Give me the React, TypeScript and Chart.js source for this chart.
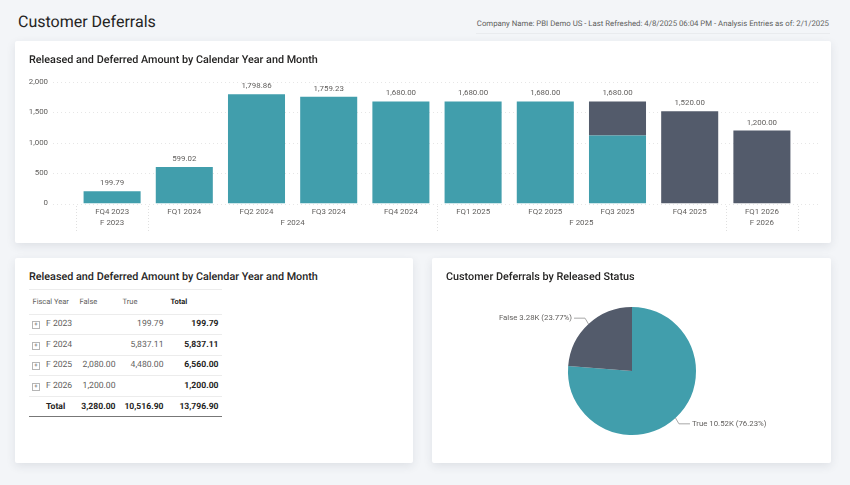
import { useEffect, useRef } from "react";
import { Chart, registerables } from "chart.js";

Chart.register(...registerables);

const FONT = 'Roboto, sans-serif';
const TEAL = "#419eac";
const SLATE = "#535b6b";
const INK = "#252423";
const GREY = "#605e5c";

const quarters = [
  "FQ4 2023", "FQ1 2024", "FQ2 2024", "FQ3 2024", "FQ4 2024",
  "FQ1 2025", "FQ2 2025", "FQ3 2025", "FQ4 2025", "FQ1 2026",
];
const releasedTrue = [199.79, 599.02, 1798.86, 1759.23, 1680, 1680, 1680, 1120, 0, 0];
const releasedFalse = [0, 0, 0, 0, 0, 0, 0, 560, 1520, 1200];
const fiscalYears = ["F 2023", "F 2024", "F 2025", "F 2026"];
const fiscalYearSpans = [1, 4, 4, 1];
const yTicks = [0, 500, 1000, 1500, 2000];

const pieLabels = ["True", "False"];
const pieValues = [10516.9, 3280];
const pieTexts = ["True 10.52K (76.23%)", "False 3.28K (23.77%)"];

const tableHead = ["Fiscal Year", "False", "True", "Total"];
const tableRows = [
  ["F 2023", "", "199.79", "199.79"],
  ["F 2024", "", "5,837.11", "5,837.11"],
  ["F 2025", "2,080.00", "4,480.00", "6,560.00"],
  ["F 2026", "1,200.00", "", "1,200.00"],
];
const tableTotal = ["Total", "3,280.00", "10,516.90", "13,796.90"];

const money = (v: number) =>
  v.toLocaleString("en-US", { minimumFractionDigits: 2, maximumFractionDigits: 2 });

// grid lines run past the categories, value labels and the fiscal year row
const barExtras = {
  id: "barExtras",
  beforeDatasetsDraw(chart: any) {
    const { ctx, scales } = chart;
    ctx.save();
    ctx.strokeStyle = "#e6e6e6";
    ctx.lineWidth = 1;
    ctx.setLineDash([1, 3]);
    yTicks.forEach((t) => {
      const y = Math.round(scales.y.getPixelForValue(t)) + 0.5;
      ctx.beginPath();
      ctx.moveTo(38, y);
      ctx.lineTo(803, y);
      ctx.stroke();
    });
    ctx.restore();
  },
  afterDatasetsDraw(chart: any) {
    const { ctx, scales } = chart;
    const step = scales.x.getPixelForValue(1) - scales.x.getPixelForValue(0);
    ctx.save();
    ctx.font = `7.9px ${FONT}`;
    ctx.fillStyle = GREY;
    ctx.textAlign = "center";
    ctx.textBaseline = "middle";
    quarters.forEach((_, i) => {
      const total = releasedTrue[i] + releasedFalse[i];
      ctx.fillText(money(total), scales.x.getPixelForValue(i), scales.y.getPixelForValue(total) - 8);
    });

    let start = 0;
    const edge = (i: number) => scales.x.getPixelForValue(0) + (i - 0.5) * step;
    ctx.strokeStyle = "#e0e0e0";
    ctx.setLineDash([1, 2]);
    const drawEdge = (i: number) => {
      const x = Math.round(edge(i)) + 0.5;
      ctx.beginPath();
      ctx.moveTo(x, 165);
      ctx.lineTo(x, 191);
      ctx.stroke();
    };
    drawEdge(0);
    fiscalYears.forEach((fy, i) => {
      const end = start + fiscalYearSpans[i];
      ctx.fillText(fy, (edge(start) + edge(end)) / 2, 182.5);
      drawEdge(end);
      start = end;
    });
    ctx.restore();
  },
};

// leader lines and labels off the middle of each slice
const pieExtras = {
  id: "pieExtras",
  afterDatasetsDraw(chart: any) {
    const { ctx } = chart;
    const arcs = chart.getDatasetMeta(0).data;
    ctx.save();
    ctx.font = `7.8px ${FONT}`;
    ctx.fillStyle = GREY;
    ctx.strokeStyle = "#a8a8a8";
    ctx.lineWidth = 1;
    ctx.textBaseline = "middle";
    arcs.forEach((arc: any, i: number) => {
      const mid = (arc.startAngle + arc.endAngle) / 2;
      const x0 = arc.x + Math.cos(mid) * arc.outerRadius;
      const y0 = arc.y + Math.sin(mid) * arc.outerRadius;
      const dir = Math.cos(mid) > 0 ? 1 : -1;
      const x1 = x0 + dir * 3.5;
      const y1 = y0 + Math.sin(mid) * 8;
      const x2 = x1 + dir * 11;
      ctx.beginPath();
      ctx.moveTo(x0, y0);
      ctx.lineTo(x1, y1);
      ctx.lineTo(x2, y1);
      ctx.stroke();
      ctx.textAlign = dir > 0 ? "left" : "right";
      ctx.fillText(pieTexts[i], x2 + dir * 2, y1);
    });
    ctx.restore();
  },
};

function BarPanel() {
  const canvasRef = useRef<HTMLCanvasElement>(null);

  useEffect(() => {
    const canvas = canvasRef.current;
    if (!canvas) return;
    const ctx: any = canvas.getContext("2d");
    if (!ctx) return;
    ctx.textRendering = "geometricPrecision";

    const chart = new Chart(canvas, {
      type: "bar",
      data: {
        labels: quarters,
        datasets: [
          { label: "True", data: releasedTrue, backgroundColor: TEAL, barPercentage: 0.79, categoryPercentage: 1 },
          { label: "False", data: releasedFalse, backgroundColor: SLATE, barPercentage: 0.79, categoryPercentage: 1 },
        ],
      },
      options: {
        responsive: false,
        animation: false,
        layout: { padding: { left: 0, right: 33, top: 41, bottom: 0 } },
        plugins: { legend: { display: false }, tooltip: { enabled: false } },
        scales: {
          x: {
            stacked: true,
            grid: { display: false },
            border: { display: false },
            afterFit(scale: any) {
              scale.height = 39.5;
            },
            ticks: {
              color: GREY,
              padding: -4,
              maxRotation: 0,
              autoSkip: false,
              font: { size: 7.9, family: FONT },
            },
          },
          y: {
            stacked: true,
            min: 0,
            max: 2000,
            grid: { display: false },
            border: { display: false },
            afterFit(scale: any) {
              scale.width = 61;
            },
            ticks: {
              color: GREY,
              stepSize: 500,
              padding: 20,
              font: { size: 7.9, family: FONT },
              callback(val: any) {
                return Number(val).toLocaleString("en-US");
              },
            },
          },
        },
      },
      plugins: [barExtras],
    } as any);

    return () => chart.destroy();
  }, []);

  return <canvas ref={canvasRef} width={816} height={202} style={{ position: "absolute", left: 0, top: 0 }} />;
}

function PiePanel() {
  const canvasRef = useRef<HTMLCanvasElement>(null);

  useEffect(() => {
    const canvas = canvasRef.current;
    if (!canvas) return;
    const ctx: any = canvas.getContext("2d");
    if (!ctx) return;
    ctx.textRendering = "geometricPrecision";

    const chart = new Chart(canvas, {
      type: "pie",
      data: {
        labels: pieLabels,
        datasets: [{ data: pieValues, backgroundColor: [TEAL, SLATE], borderWidth: 0 }],
      },
      options: {
        responsive: false,
        animation: false,
        layout: { padding: { left: 100, right: 99, top: 49, bottom: 28 } },
        plugins: { legend: { display: false }, tooltip: { enabled: false } },
      },
      plugins: [pieExtras],
    } as any);

    return () => chart.destroy();
  }, []);

  return <canvas ref={canvasRef} width={399} height={205} style={{ position: "absolute", left: 0, top: 0 }} />;
}

const card = (left: number, top: number, width: number, height: number): React.CSSProperties => ({
  position: "absolute",
  left,
  top,
  width,
  height,
  background: "#fff",
  borderRadius: 2,
  boxShadow: "0 3px 10px rgba(40,50,70,0.10)",
});

const panelTitle: React.CSSProperties = {
  position: "absolute",
  left: 14,
  top: 10,
  fontSize: 10.8,
  lineHeight: "17px",
  fontWeight: 500,
  color: INK,
  whiteSpace: "nowrap",
};

const cell = (align: "left" | "right", bold: boolean, color = GREY): React.CSSProperties => ({
  padding: align === "right" ? "0 3.5px 0 0" : "0 0 0 3.5px",
  textAlign: align,
  fontWeight: bold ? 700 : 400,
  color,
  lineHeight: "12px",
  whiteSpace: "nowrap",
  overflow: "visible",
});

function DeferralTable() {
  const rowStyle: React.CSSProperties = { height: 20.6, borderBottom: "1.5px solid #ececec" };
  return (
    <table
      style={{
        position: "absolute",
        left: 14,
        top: 31,
        width: 193,
        tableLayout: "fixed",
        borderCollapse: "collapse",
        fontSize: 8.6,
        fontFamily: FONT,
      }}
    >
      <colgroup>
        <col style={{ width: 47 }} />
        <col style={{ width: 43 }} />
        <col style={{ width: 48 }} />
        <col style={{ width: 55 }} />
      </colgroup>
      <thead>
        <tr style={{ height: 24.5, borderTop: "1px solid #ececec", borderBottom: "1.5px solid #ececec" }}>
          {tableHead.map((h, i) => (
            <th key={h} style={{ ...cell("left", i === 3, i === 3 ? INK : GREY), fontSize: 7.5, fontWeight: i === 3 ? 700 : 400 }}>
              {h}
            </th>
          ))}
        </tr>
      </thead>
      <tbody>
        {tableRows.map((row) => (
          <tr key={row[0]} style={rowStyle}>
            <td style={{ ...cell("left", false), paddingLeft: 3 }}>
              <span
                style={{
                  display: "inline-block",
                  position: "relative",
                  top: 1,
                  width: 6,
                  height: 6,
                  marginRight: 6,
                  border: "1px solid #b5b5b5",
                  fontSize: 6,
                  lineHeight: "6px",
                  textAlign: "center",
                  verticalAlign: "middle",
                }}
              >
                +
              </span>
              {row[0]}
            </td>
            <td style={cell("right", false)}>{row[1]}</td>
            <td style={cell("right", false)}>{row[2]}</td>
            <td style={cell("right", true, INK)}>{row[3]}</td>
          </tr>
        ))}
        <tr style={{ height: 20.6, borderBottom: "1.5px solid #777" }}>
          <td style={{ ...cell("left", true, INK), paddingLeft: 17 }}>{tableTotal[0]}</td>
          <td style={cell("right", true, INK)}>{tableTotal[1]}</td>
          <td style={cell("right", true, INK)}>{tableTotal[2]}</td>
          <td style={cell("right", true, INK)}>{tableTotal[3]}</td>
        </tr>
      </tbody>
    </table>
  );
}

export default function App() {
  useEffect(() => {
    document.body.style.margin = "0";
  }, []);

  return (
    <div
      style={{
        position: "relative",
        width: 850,
        height: 485,
        overflow: "hidden",
        background: "#f3f5f8",
        fontFamily: FONT,
        textRendering: "geometricPrecision",
      }}
    >
      <div style={{ position: "absolute", left: 18, top: 9, fontSize: 16, lineHeight: "26px", color: INK, whiteSpace: "nowrap" }}>
        Customer Deferrals
      </div>
      <div style={{ position: "absolute", right: 21, top: 18, fontSize: 7.8, lineHeight: "12px", color: GREY, whiteSpace: "nowrap" }}>
        Company Name: PBI Demo US - Last Refreshed: 4/8/2025 06:04 PM - Analysis Entries as of: 2/1/2025
      </div>
      <div style={{ position: "absolute", left: 476, top: 33, width: 354, height: 1, background: "#e9ebee" }} />

      <div style={card(15, 41, 816, 202)}>
        <BarPanel />
        <div style={panelTitle}>Released and Deferred Amount by Calendar Year and Month</div>
      </div>

      <div style={card(15, 258, 398, 205)}>
        <div style={panelTitle}>Released and Deferred Amount by Calendar Year and Month</div>
        <DeferralTable />
      </div>

      <div style={card(432, 258, 399, 205)}>
        <PiePanel />
        <div style={panelTitle}>Customer Deferrals by Released Status</div>
      </div>
    </div>
  );
}
